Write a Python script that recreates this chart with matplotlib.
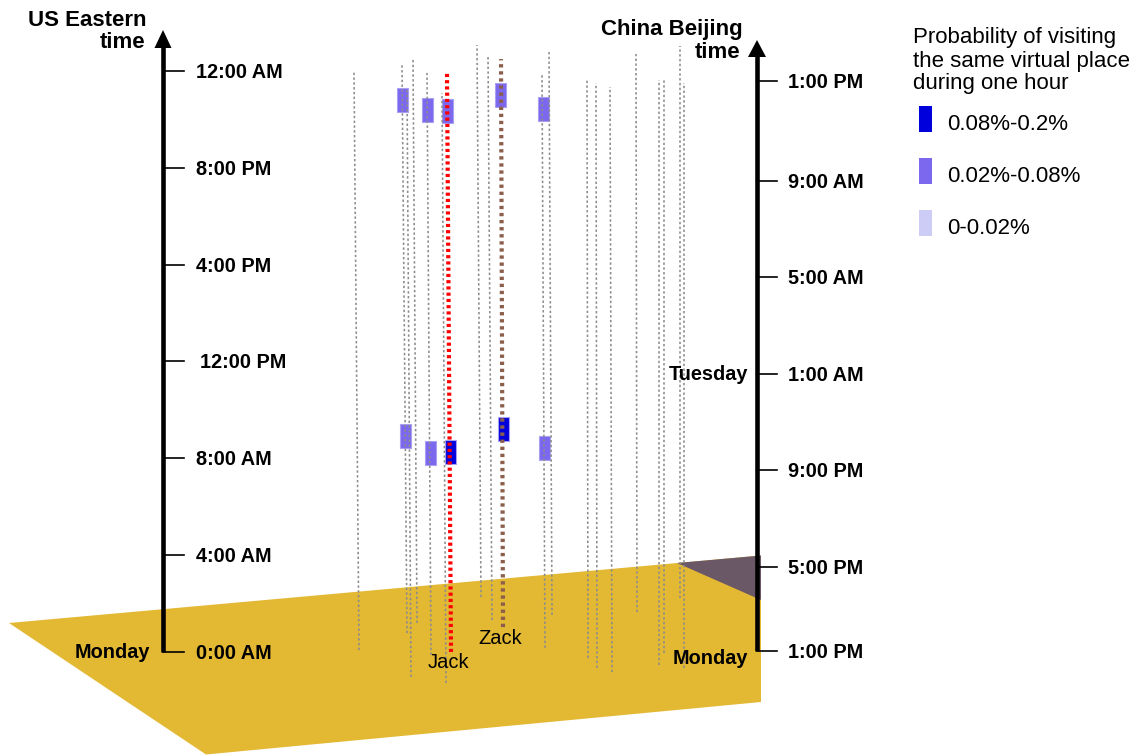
import matplotlib
matplotlib.use("Agg")
import matplotlib.pyplot as plt
import matplotlib.transforms as mtransforms
from matplotlib.patches import Polygon, Rectangle

plt.rcParams["font.family"] = ["Liberation Sans", "DejaVu Sans"]

# ---------------------------------------------------------------- data
# US Eastern clock ticks (hours since Monday 0:00 AM)
us_tick_hours = [0, 4, 8, 12, 16, 20, 24]
us_tick_labels = ["0:00 AM", "4:00 AM", "8:00 AM", "12:00 PM", "4:00 PM", "8:00 PM", "12:00 AM"]

# China Beijing clock ticks, placed on the same hour scale
cn_tick_hours = [0.05, 3.5, 7.5, 11.5, 15.5, 19.45, 23.6]
cn_tick_labels = ["1:00 PM", "5:00 PM", "9:00 PM", "1:00 AM", "5:00 AM", "9:00 AM", "1:00 PM"]

# Anonymous users: floor column, top column, first and last hour of the timeline
other_x_base = [359, 407, 411, 417, 431, 446, 481, 492, 545, 552, 588, 597, 612, 637, 659, 664, 680, 684]
other_x_top = [354, 402, 407, 413, 427, 442, 477, 488, 542, 549, 587, 596, 610, 636, 659, 664, 680, 684]
other_start = [0.08, 0.78, -1.03, 1.20, -0.12, -1.28, 2.27, 1.32, 0.17, 1.53, -0.25, -0.66, -0.83, 1.65, -0.54, -0.04, 2.23, -0.66]
other_end = [23.96, 24.29, 23.30, 24.49, 23.92, 23.09, 25.07, 24.66, 23.92, 24.78, 23.67, 23.50, 23.34, 24.70, 23.63, 23.67, 25.03, 23.50]

# Highlighted users
named_users = ["Jack", "Zack"]
named_x_base = [451, 503]
named_x_top = [447, 501]
named_start = [0.0, 1.03]
named_end = [23.92, 24.49]

# One-hour visiting windows: column, starting hour, probability class
box_x = [402.5, 427, 447.5, 500.5, 543, 405.5, 430, 450.5, 503, 544.5]
box_start = [22.30, 21.89, 21.85, 22.51, 21.93, 8.43, 7.72, 7.77, 8.72, 7.93]
box_level = [1, 1, 1, 1, 1, 1, 1, 2, 2, 1]

legend_labels = ["0.08%-0.2%", "0.02%-0.08%", "0-0.02%"]

# ---------------------------------------------------------------- styles
level_colors = {2: "#0000DC", 1: "#7B68EE", 0: "#CCCCF7"}
legend_colors = [level_colors[2], level_colors[1], level_colors[0]]
named_colors = ["#FF0000", "#8C5E4C"]
gold = "#E3B833"
shade = "#6B5866"

W, H = 1143, 756
PX_PER_HOUR = 24.21
Y0 = 652  # pixel row of hour 0 on the left time axis

fig = plt.figure(figsize=(W / 100, H / 100), dpi=100)
ax = fig.add_axes([0, 0, 1, 1])
ax.set_axis_off()
ax.set_xlim(0, W)
ax.set_ylim((Y0 - H) / PX_PER_HOUR, Y0 / PX_PER_HOUR)

# pixel layout transform (origin top-left) for scenery and annotations
px = mtransforms.Affine2D().scale(1 / W, -1 / H).translate(0, 1) + fig.transFigure
# tick labels sit a touch below their tick line
label_tr = mtransforms.offset_copy(ax.transData, fig=fig, y=-1.5, units="dots")

# ---------------------------------------------------------------- floor
floor = Polygon([(9, 623), (761, 555.5), (761, 702), (206, 754.5)],
                closed=True, facecolor=gold, edgecolor="none", transform=px, zorder=1)
ax.add_patch(floor)
wedge = Polygon([(677, 563), (761, 555.5), (761, 600)],
                closed=True, facecolor=shade, edgecolor="none", transform=px, zorder=2)
ax.add_patch(wedge)

# ---------------------------------------------------------------- timelines
for xb, xt, s, e in zip(other_x_base, other_x_top, other_start, other_end):
    ax.plot([xb, xt], [s, e], color="#8C8C8C", lw=1.15,
            linestyle=(0, (1.5, 1.5)), zorder=4, dash_capstyle="butt")

dash_styles = [(0, (0.75, 0.75)), (0, (0.8, 0.9))]
for name, xb, xt, s, e, c, ls in zip(named_users, named_x_base, named_x_top,
                                      named_start, named_end, named_colors, dash_styles):
    ax.plot([xb, xt], [s, e], color=c, lw=3.0, linestyle=ls, zorder=5,
            dash_capstyle="butt")

ax.text(448, 662, named_users[0], transform=px, ha="center", va="center",
        fontsize=14.5, color="black", zorder=6)
ax.text(500, 638, named_users[1], transform=px, ha="center", va="center",
        fontsize=14.5, color="black", zorder=6)

# ---------------------------------------------------------------- visiting windows
for xc, s, lev in zip(box_x, box_start, box_level):
    ax.add_patch(Rectangle((xc - 5.5, s), 11, 1.0, facecolor=level_colors[lev],
                           edgecolor="#A99FF3", lw=0.8, zorder=3))

# ---------------------------------------------------------------- time axes
def draw_axis(x, h_bottom, tip_px, base_px, half_w):
    h_tip = (Y0 - tip_px) / PX_PER_HOUR
    h_base = (Y0 - base_px) / PX_PER_HOUR
    ax.plot([x, x], [h_bottom, h_base + 0.1], color="black", lw=3.3,
            solid_capstyle="butt", zorder=7)
    ax.add_patch(Polygon([(x, h_tip), (x - half_w, h_base), (x + half_w, h_base)],
                         closed=True, facecolor="black", edgecolor="none", zorder=7))

draw_axis(163, 0, 30, 48, 8.5)
draw_axis(757, cn_tick_hours[0], 40, 57, 9.0)

for h, lab in zip(us_tick_hours, us_tick_labels):
    ax.plot([163, 184], [h, h], color="black", lw=1.2, zorder=7)
    xoff = 200 if lab == "12:00 PM" else 196
    ax.text(xoff, h, lab, transform=label_tr, ha="left", va="center",
            fontsize=14.3, fontweight="bold", zorder=8)

for h, lab in zip(cn_tick_hours, cn_tick_labels):
    ax.plot([757, 777], [h, h], color="black", lw=1.2, zorder=7)
    ax.text(788, h, lab, transform=label_tr, ha="left", va="center",
            fontsize=14.3, fontweight="bold", zorder=8)

bold = dict(fontsize=14.3, fontweight="bold", transform=px, zorder=8)
ax.text(150, 652, "Monday", ha="right", va="center", **bold)
ax.text(748, 659, "Monday", ha="right", va="center", **bold)
ax.text(748, 374, "Tuesday", ha="right", va="center", **bold)

title = dict(fontsize=16, fontweight="bold", transform=px, zorder=8)
ax.text(146, 21, "US Eastern", ha="right", va="center", **title)
ax.text(145, 43, "time", ha="right", va="center", **title)
ax.text(743, 29, "China Beijing", ha="right", va="center", **title)
ax.text(740, 53, "time", ha="right", va="center", **title)

# ---------------------------------------------------------------- legend
for i, line in enumerate(["Probability of visiting", "the same virtual place",
                          "during one hour"]):
    ax.text(913, 38 + 23 * i, line, transform=px, ha="left", va="center",
            fontsize=16, zorder=8)

for i, (lab, c) in enumerate(zip(legend_labels, legend_colors)):
    top = 106 + 52 * i
    ax.add_patch(Rectangle((919, top), 13, 26, transform=px, facecolor=c,
                           edgecolor="none", zorder=8))
    ax.text(947, top + 18, lab, transform=px, ha="left", va="center",
            fontsize=16, zorder=8)

fig.savefig("out.png", dpi=100)
